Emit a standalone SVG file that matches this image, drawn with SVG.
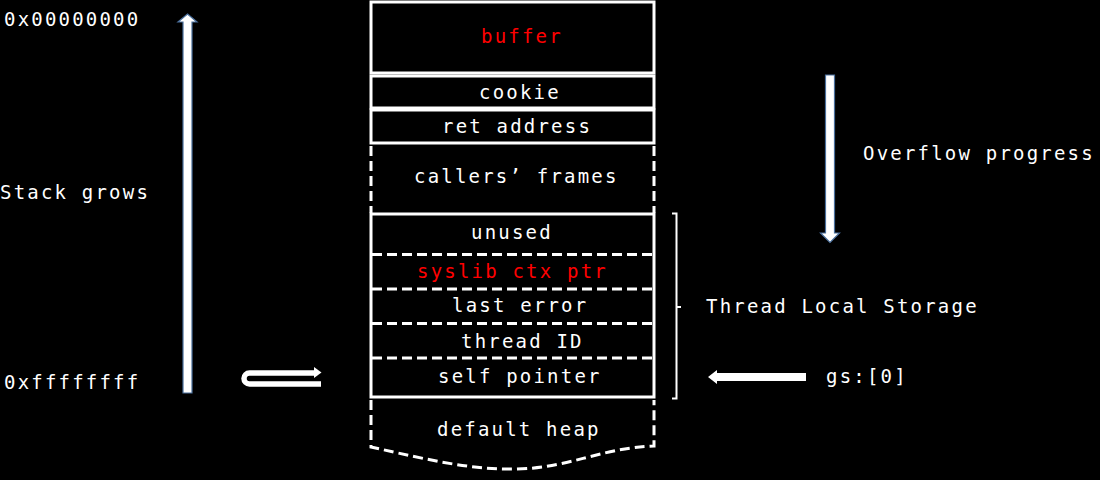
<svg xmlns="http://www.w3.org/2000/svg" width="1100" height="480" viewBox="0 0 1100 480">
<style>
.t{font-family:"DejaVu Sans Mono","Liberation Mono",monospace;font-size:19px;letter-spacing:2.2px;fill:#fff}
.r{fill:#ff0000}
.box{fill:none;stroke:#fff;stroke-width:3}
.dash{fill:none;stroke:#fff;stroke-width:3;stroke-dasharray:10 5}
.blue{fill:#fff;stroke:#4a6f9c;stroke-width:1.2}
</style>
<rect width="1100" height="480" fill="#000"/>
<g id="label-top"><text class="t" x="4" y="26">0x00000000</text></g>
<g id="label-stack-grows"><text class="t" x="0" y="199">Stack grows</text></g>
<g id="label-bottom"><text class="t" x="4" y="389">0xffffffff</text></g>
<g id="buffer"><rect class="box" x="371" y="2" width="283" height="71"/><text class="t r" x="481" y="43">buffer</text></g>
<g id="cookie"><rect class="box" x="371" y="76" width="283" height="32"/><text class="t" x="479" y="99">cookie</text></g>
<g id="ret-address"><rect class="box" x="371" y="110" width="283" height="33"/><text class="t" x="442" y="133">ret address</text></g>
<g id="callers-frames"><path class="dash" d="M371,146 V213 M654,146 V213"/><text class="t" x="414" y="183">callers’ frames</text></g>
<g id="tls">
<rect class="box" x="371" y="214" width="283" height="183"/>
<path class="dash" d="M372,254.5 H653 M372,289 H653 M372,323.5 H653 M372,358 H653"/>
</g>
<g id="unused"><text class="t" x="471" y="239">unused</text></g>
<g id="syslib-ctx-ptr"><text class="t r" x="417" y="278">syslib ctx ptr</text></g>
<g id="last-error"><text class="t" x="452" y="312">last error</text></g>
<g id="thread-id"><text class="t" x="461" y="348">thread ID</text></g>
<g id="self-pointer"><text class="t" x="438" y="383">self pointer</text></g>
<g id="default-heap"><path class="dash" d="M371,400 V447 C430,460 470,470 517,469 C570,468 600,448 654,446 V400"/><text class="t" x="437" y="436">default heap</text></g>
<g id="tls-brace"><path d="M672,213.5 H676.5 V398.5 H672 M676.5,307 H681" fill="none" stroke="#fff" stroke-width="2"/></g>
<g id="label-tls"><text class="t" x="706" y="313">Thread Local Storage</text></g>
<g id="label-overflow"><text class="t" x="863" y="160">Overflow progress</text></g>
<g id="label-gs"><text class="t" x="826" y="383">gs:[0]</text></g>
<g id="connectors">
<path class="blue" d="M187.5,14 L197,22 L192,22 L192,393 L183,393 L183,22 L178,22 Z"/>
<path class="blue" d="M825.5,75 H834.5 V233 H839.5 L830,242.5 L820.5,233 H825.5 Z"/>
<path d="M708,377 L717,370 V373 H806 V381 H717 V384 Z" fill="#fff"/>
<path d="M321,384 H249.5 A5.5,5.5 0 0 1 249.5,373 H315" fill="none" stroke="#fff" stroke-width="5.5"/>
<path d="M314,367 L321.5,372.5 L314,378 Z" fill="#fff"/>
</g>
</svg>
